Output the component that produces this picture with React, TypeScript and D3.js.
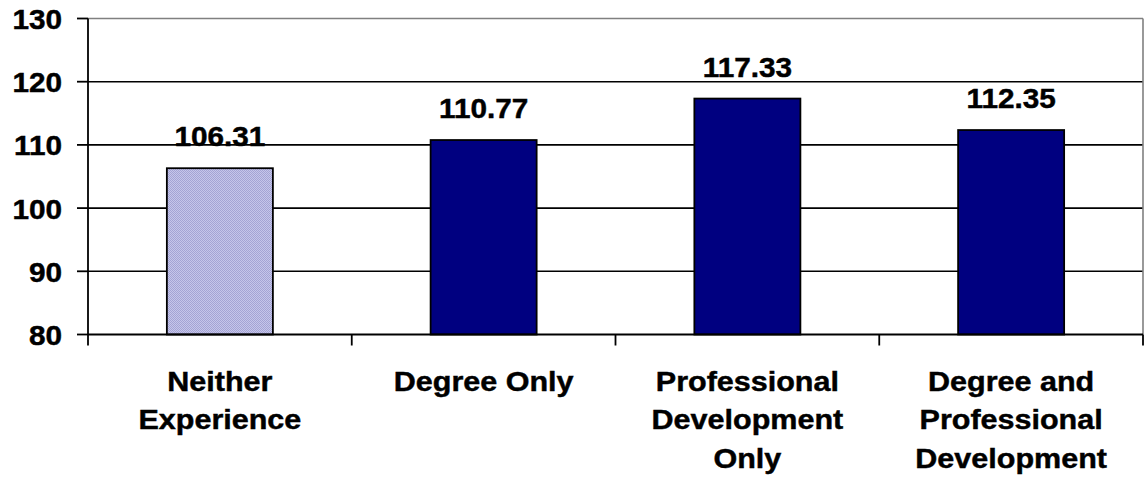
import React from "react";
import * as d3 from "d3";

const categories: string[][] = [
  ["Neither", "Experience"],
  ["Degree Only"],
  ["Professional", "Development", "Only"],
  ["Degree and", "Professional", "Development"],
];
const values: number[] = [106.31, 110.77, 117.33, 112.35];
const valueLabels: string[] = ["106.31", "110.77", "117.33", "112.35"];
const yTicks: number[] = [80, 90, 100, 110, 120, 130];

const W = 1147;
const H = 478;
const left = 88;
const right = 1143;
const top = 18.5;
const bottom = 334.5;
const FONT = "'Liberation Sans', Arial, Helvetica, sans-serif";
const FS = 27.5;
const SX_NUM = 1.08;
const SX_CAT = 1.11;
const TEXT_STROKE = 0.45;

export default function App() {
  const x = d3
    .scaleBand<number>()
    .domain(values.map((_, i) => i))
    .range([left, right])
    .paddingInner(0)
    .paddingOuter(0);
  const y = d3.scaleLinear().domain([80, 130]).range([bottom, top]);
  const bw = x.bandwidth() * 0.402;
  const boundaries = d3.range(values.length + 1).map((i) => left + i * x.step());

  return (
    <svg
      width={W}
      height={H}
      style={{ position: "absolute", left: 0, top: 0, background: "#fff" }}
      fontFamily={FONT}
      fontWeight="bold"
    >
      <defs>
        <pattern id="hatch" width="2" height="2" patternUnits="userSpaceOnUse">
          <rect width="2" height="2" fill="#c6c6ea" />
          <rect width="1" height="1" fill="#a4a4d4" />
          <rect x="1" y="1" width="1" height="1" fill="#a4a4d4" />
        </pattern>
      </defs>
      {/* gridlines */}
      {yTicks.slice(1, -1).map((t) => (
        <line key={t} x1={left} x2={right} y1={y(t)} y2={y(t)} stroke="#000" strokeWidth={1.6} />
      ))}
      {/* plot border top/right */}
      <line x1={left} x2={right} y1={y(130)} y2={y(130)} stroke="#808080" strokeWidth={1.6} />
      <line x1={right} x2={right} y1={y(130)} y2={bottom} stroke="#808080" strokeWidth={1.6} />
      {/* bars */}
      {values.map((v, i) => {
        const cx = (x(i) as number) + x.bandwidth() / 2;
        return (
          <g key={i}>
            <rect
              x={cx - bw / 2}
              y={y(v)}
              width={bw}
              height={bottom - y(v)}
              fill={i === 0 ? "url(#hatch)" : "#000080"}
              stroke="#000"
              strokeWidth={1.8}
            />
            <text
              transform={`translate(${cx},${y(v) - 22}) scale(${SX_NUM},1)`}
              textAnchor="middle"
              fontSize={FS}
              fill="#000"
              stroke="#000"
              strokeWidth={TEXT_STROKE}
            >
              {valueLabels[i]}
            </text>
          </g>
        );
      })}
      {/* axes */}
      <line x1={left} x2={left} y1={top} y2={bottom} stroke="#000" strokeWidth={1.8} />
      <line x1={left} x2={right} y1={bottom} y2={bottom} stroke="#000" strokeWidth={1.8} />
      {yTicks.map((t) => (
        <g key={t}>
          <line x1={left - 11} x2={left} y1={y(t)} y2={y(t)} stroke="#000" strokeWidth={1.8} />
          <text
            transform={`translate(62,${y(t) + 10.5}) scale(${SX_NUM},1)`}
            textAnchor="end"
            fontSize={FS}
            fill="#000"
            stroke="#000"
            strokeWidth={TEXT_STROKE}
          >
            {t}
          </text>
        </g>
      ))}
      {boundaries.map((b, i) => (
        <line key={i} x1={b} x2={b} y1={bottom} y2={bottom + 11} stroke="#000" strokeWidth={1.8} />
      ))}
      {categories.map((lines, i) => {
        const cx = (x(i) as number) + x.bandwidth() / 2;
        return (
          <g key={i} transform={`translate(${cx},391) scale(${SX_CAT},1)`}>
            <text
              textAnchor="middle"
              fontSize={FS}
              fill="#000"
              stroke="#000"
              strokeWidth={TEXT_STROKE}
            >
              {lines.map((l, j) => (
                <tspan key={j} x={0} y={j * 38.5}>
                  {l}
                </tspan>
              ))}
            </text>
          </g>
        );
      })}
    </svg>
  );
}
